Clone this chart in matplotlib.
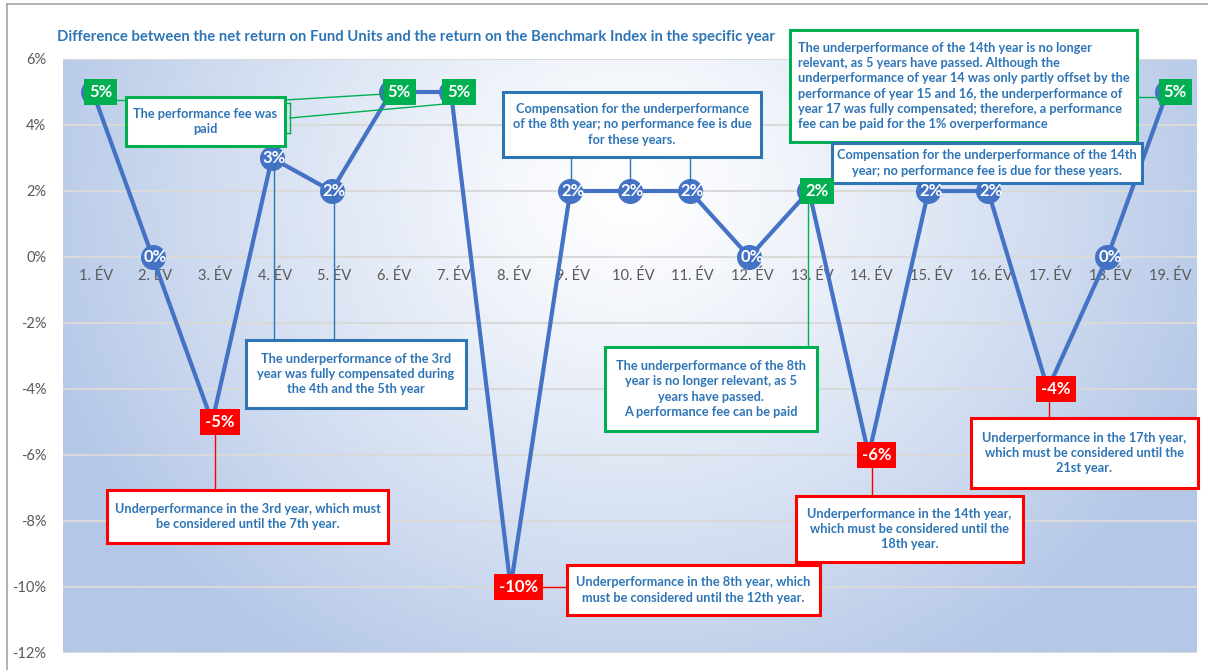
import numpy as np
import matplotlib
matplotlib.use("Agg")
import matplotlib.pyplot as plt
from matplotlib.patches import Rectangle
from matplotlib.colors import LinearSegmentedColormap

# ---------------- data ----------------
categories = [f"{i}. ÉV" for i in range(1, 20)]
values = [5, 0, -5, 3, 2, 5, 5, -10, 2, 2, 2, 0, 2, -6, 2, 2, -4, 0, 5]
label_style = ["green", "circle", "red", "circle", "circle", "green", "green", "red",
               "circle", "circle", "circle", "circle", "green", "red", "circle", "circle",
               "red", "circle", "green"]
y_ticks = [-12, -10, -8, -6, -4, -2, 0, 2, 4, 6]
title = "Difference between the net return on Fund Units and the return on the Benchmark Index in the specific year"

notes = [
    "The performance fee was\npaid",
    "Compensation for the underperformance\nof the 8th year; no performance fee is due\nfor these years.",
    "The underperformance of the 3rd\nyear was fully compensated during\nthe 4th and the 5th year",
    "Underperformance in the 3rd year, which must\nbe considered until the 7th year.",
    "Underperformance in the 8th year, which\nmust be considered until the 12th year.",
    "The underperformance of the 8th\nyear is no longer relevant, as 5\nyears have passed.\nA performance fee can be paid",
    "The underperformance of the 14th year is no longer\nrelevant, as 5 years have passed. Although the\nunderperformance of year 14 was only partly offset by the\nperformance of year 15 and 16, the underperformance of\nyear 17 was fully compensated; therefore, a performance\nfee can be paid for the 1% overperformance",
    "Compensation for the underperformance of the 14th\nyear; no performance fee is due for these years.",
    "Underperformance in the 14th year,\nwhich must be considered until the\n18th year.",
    "Underperformance in the 17th year,\nwhich must be considered until the\n21st year.",
]

# ---------------- style ----------------
FONT = "Lato"
plt.rcParams['font.family'] = [FONT, 'DejaVu Sans']
BLUE_LINE = "#4472C4"
TXT_BLUE = "#2E75B6"
GREEN = "#00B050"
RED = "#FF0000"
GRAY = "#595959"

W, H = 1208, 670
fig = plt.figure(figsize=(W / 100, H / 100), dpi=100)
AX_L, AX_R, AX_T, AX_B = 63, 1197, 59, 653
ax = fig.add_axes([AX_L / W, (H - AX_B) / H, (AX_R - AX_L) / W, (AX_B - AX_T) / H])

n = len(values)
x = np.arange(n)
ax.set_xlim(-0.5, n - 0.5)
ax.set_ylim(-12, 6)


def P(px, py):
    """reference pixel -> data coords"""
    return ((px - AX_L) / (AX_R - AX_L) * n - 0.5,
            6 - (py - AX_T) / (AX_B - AX_T) * 18)


# background gradient
gx, gy = np.meshgrid(np.linspace(0, 1, 400), np.linspace(0, 1, 300))
d = np.sqrt(((gx - 0.50) / 0.55) ** 2 + ((gy - 0.78) / 0.95) ** 2)
d = np.clip(d, 0, 1) ** 1.2
cmap = LinearSegmentedColormap.from_list("bg", ["#FFFFFF", "#B4C7E7"])
ax.imshow(d, cmap=cmap, extent=[-0.5, n - 0.5, -12, 6], origin="lower",
          aspect="auto", zorder=0, vmin=0, vmax=1)

# grid
for yt in y_ticks:
    ax.axhline(yt, color="#D9D9D9", lw=1.5, zorder=1)

# outer chart border
fig.add_artist(plt.Line2D([7 / W, 7 / W], [0, 1 - 4 / H], color="#A6A6A6", lw=1.2))
fig.add_artist(plt.Line2D([7 / W, 1], [1 - 4 / H, 1 - 4 / H], color="#A6A6A6", lw=1.2))

for s in ax.spines.values():
    s.set_visible(False)

ax.set_yticks(y_ticks)
ax.set_yticklabels([f"{v}%" for v in y_ticks], color=GRAY, fontsize=10.5)
ax.tick_params(axis="y", length=0, pad=12)
ax.set_xticks(x)
ax.set_xticklabels([])
for xi, c in zip(x, categories):
    ax.text(xi + 0.05, P(0, 276)[1], c, ha="center", va="center", color=GRAY,
            fontsize=10.5, zorder=2)
ax.tick_params(axis="x", length=0)

# line with markers
ax.plot(x, values, color=BLUE_LINE, lw=3.0, marker="o", markersize=17,
        markerfacecolor=BLUE_LINE, markeredgecolor=BLUE_LINE, zorder=3, solid_capstyle="round")

# ---------------- annotation boxes ----------------
# (x0, y0, x1, y1) in reference pixels, edge colour, alignment
boxes = [
    ((126, 97, 285, 146), GREEN, "center"),
    ((503, 92, 761, 157), TXT_BLUE, "center"),
    ((246, 340, 466, 408), TXT_BLUE, "center"),
    ((107, 490, 388, 543), RED, "center"),
    ((567, 565, 820, 615), RED, "center"),
    ((605, 347, 817, 431), GREEN, "center"),
    ((790, 30, 1137, 142), GREEN, "left"),
    ((832, 143, 1142, 183), TXT_BLUE, "center"),
    ((796, 496, 1023, 562), RED, "center"),
    ((971, 418, 1198, 488), RED, "center"),
]

connectors = [
    (((117, 100), (126, 100)), GREEN),
    (((285, 100), (385, 94)), GREEN),
    (((290, 118), (445, 104)), GREEN),
    (((285, 103), (290, 103)), GREEN),
    (((290, 103), (290, 133)), GREEN),
    (((285, 133), (290, 133)), GREEN),
    (((571, 157), (571, 180)), TXT_BLUE),
    (((630, 157), (630, 180)), TXT_BLUE),
    (((690, 157), (690, 180)), TXT_BLUE),
    (((274, 160), (274, 340)), TXT_BLUE),
    (((334, 193), (334, 340)), TXT_BLUE),
    (((215, 433), (215, 490)), RED),
    (((543, 587), (567, 587)), RED),
    (((808, 204), (808, 347)), GREEN),
    (((1137, 97), (1157, 97)), GREEN),
    (((872, 466), (872, 496)), RED),
    (((1049, 400), (1049, 418)), RED),
]

for (p0, p1), col in connectors:
    a, b = P(*p0), P(*p1)
    ax.plot([a[0], b[0]], [a[1], b[1]], color=col, lw=1.0, zorder=4, clip_on=False)

for ((x0, y0, x1, y1), col, al), txt in zip(boxes, notes):
    a, b = P(x0, y1), P(x1, y0)
    ax.add_patch(Rectangle(a, b[0] - a[0], b[1] - a[1], facecolor="white",
                           edgecolor=col, lw=2.2, zorder=5, clip_on=False))
    if al == "center":
        tx = (a[0] + b[0]) / 2
    else:
        tx = P(x0 + 8, 0)[0]
    ax.text(tx, (a[1] + b[1]) / 2, txt, ha=al, va="center", ma=al, color=TXT_BLUE,
            fontsize=9.2, fontweight="bold", linespacing=1.32, zorder=6, clip_on=False)

# ---------------- data labels ----------------
dx = P(AX_L + 8, 0)[0] - P(AX_L, 0)[0]
for xi, v, st in zip(x, values, label_style):
    lab = f"{v}%"
    if st == "circle":
        ax.text(xi + dx * 0.3, v, lab, ha="center", va="center", color="white",
                fontsize=12, fontweight="bold", zorder=7)
    else:
        fc = GREEN if st == "green" else RED
        ax.text(xi + dx, v, lab, ha="center", va="center", color="white",
                fontsize=12, fontweight="bold", zorder=7,
                bbox=dict(boxstyle="square,pad=0.3", facecolor=fc, edgecolor="none"))

fig.text(57 / W, 1 - 37 / H, title, ha="left", va="center", color=TXT_BLUE,
         fontsize=10.7, fontweight="bold")

fig.savefig("out.png", dpi=100)
